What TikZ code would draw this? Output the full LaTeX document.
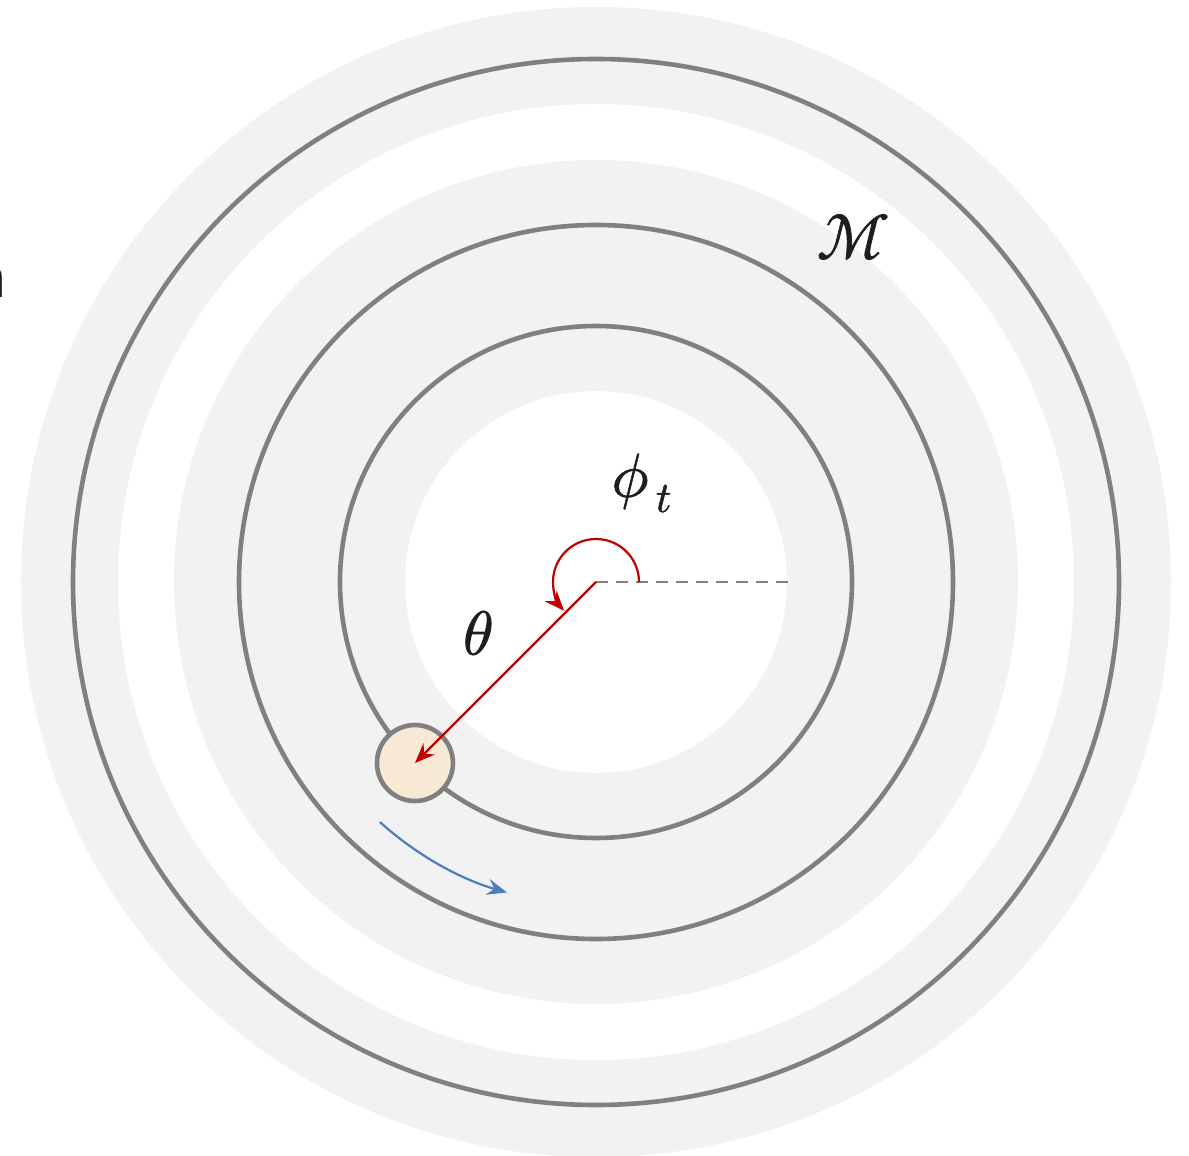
\documentclass[tikz,border=0pt]{standalone}
\usepackage{unicode-math}
\setmathfont{Latin Modern Math}[FakeBold=1.2]
\usetikzlibrary{arrows.meta}
\definecolor{bandgray}{RGB}{242,242,242}
\definecolor{ringgray}{RGB}{128,128,128}
\definecolor{myred}{RGB}{192,0,0}
\definecolor{myblue}{RGB}{74,126,190}
\definecolor{beige}{RGB}{247,233,211}
\definecolor{txt}{RGB}{30,30,30}
\begin{document}
\begin{tikzpicture}[x=0.5pt,y=0.5pt,
  band/.style={fill=bandgray,even odd rule},
  ring/.style={draw=ringgray,line width=2.3pt},
  lbl/.style={font=\fontsize{31}{37}\selectfont,inner sep=0pt,text=txt},
  redarrow/.style={draw=myred,line width=1.1pt,-{Stealth[length=10pt,width=8pt,inset=3.5pt]}},
  bluearrow/.style={draw=myblue,line width=1.1pt,-{Stealth[length=10pt,width=8pt,inset=3.5pt]}}]
\useasboundingbox (-596,-574) rectangle (593,582);
\coordinate (O) at (0,0);
% bands
\fill[band] (O) circle[radius=575] (O) circle[radius=478];
\fill[band] (O) circle[radius=422] (O) circle[radius=191];
% rings
\draw[ring] (O) circle[radius=523];
\draw[ring] (O) circle[radius=357];
\draw[ring] (O) circle[radius=256];
% dashed reference line
\coordinate (R) at (194,0);
\draw[ringgray,line width=1.1pt,dash pattern=on 6pt off 4pt] (O) -- (R);
% particle
\node[circle,draw=ringgray,line width=2.3pt,fill=beige,minimum size=38pt,inner sep=0pt] (P) at (225:256) {};
% red radius arrow
\coordinate (Pc) at (225:256);
\draw[redarrow] (O) -- (Pc);
% red angle arc
\coordinate (A0) at (43,0);
\draw[redarrow] (A0) arc[start angle=0,end angle=222,radius=43];
% blue motion arrow
\coordinate (B0) at (228:323);
\draw[bluearrow] (B0) arc[start angle=228,end angle=254,radius=323];
% labels
\node[lbl] (phi) at (46,99) {$\phi_{\,t}$};
\node[lbl] (theta) at (-118,-51) {$\theta$};
\node[lbl,font=\fontsize{32}{38}\selectfont] (M) at (257,345) {$\mathcal{M}$};
\node[lbl,anchor=base east,font=\sffamily\fontsize{34}{40}\selectfont] (cut) at (-588,284) {n};
\end{tikzpicture}
\end{document}
